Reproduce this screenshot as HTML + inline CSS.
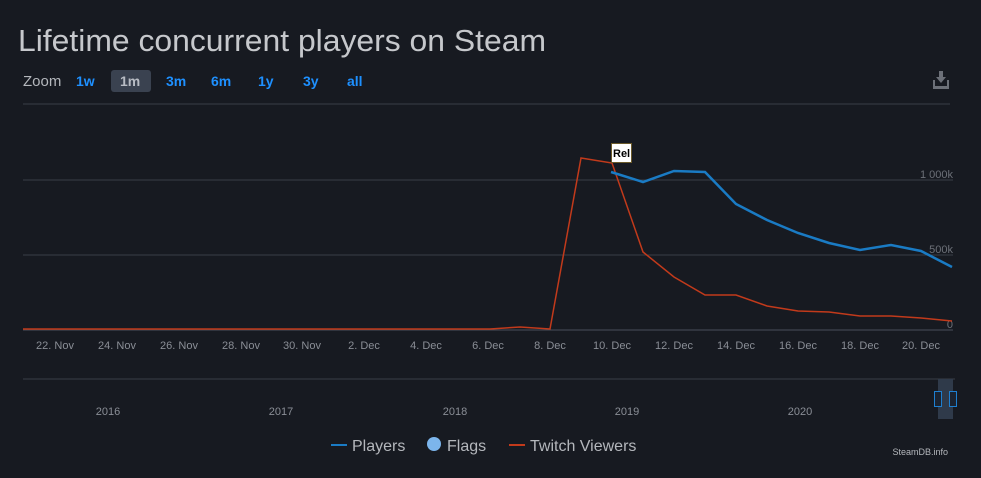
<!DOCTYPE html>
<html><head><meta charset="utf-8"><style>
body{margin:0;background:#171a21;width:981px;height:473px;overflow:hidden;font-family:"Liberation Sans",sans-serif}
</style></head><body>
<svg width="981" height="473" xmlns="http://www.w3.org/2000/svg" font-family="Liberation Sans, sans-serif">
<rect width="981" height="473" fill="#171a21"/>
<text x="18" y="51" font-size="31" fill="#c6c8cc" textLength="528" lengthAdjust="spacingAndGlyphs">Lifetime concurrent players on Steam</text>
<text x="23" y="86" font-size="15" fill="#b4b7bc">Zoom</text>
<rect x="111" y="70" width="40" height="22" rx="3" fill="#3a4250"/>
<g font-size="14" font-weight="bold" fill="#1e90ff">
<text x="76" y="86">1w</text><text x="120" y="86" fill="#b8bcc4">1m</text><text x="166" y="86">3m</text>
<text x="211" y="86">6m</text><text x="258" y="86">1y</text><text x="303" y="86">3y</text><text x="347" y="86">all</text></g>
<g fill="#6c7078"><rect x="933" y="86" width="16" height="3"/><rect x="933" y="80" width="2" height="7"/><rect x="947" y="80" width="2" height="7"/><polygon points="936,77 946,77 941,83"/><rect x="939" y="71" width="4" height="7"/></g>
<line x1="23" y1="104" x2="950" y2="104" stroke="#3a3e47"/>
<line x1="23" y1="180" x2="953" y2="180" stroke="#3a3e47"/>
<line x1="23" y1="255" x2="953" y2="255" stroke="#3a3e47"/>
<line x1="23" y1="330" x2="953" y2="330" stroke="#4a4f5a"/>
<g font-size="11" fill="#6c7078" text-anchor="end"><text x="953" y="178">1 000k</text><text x="953" y="253">500k</text><text x="953" y="328">0</text></g>
<g font-size="11" fill="#8a8e96" text-anchor="middle">
<text x="55" y="349">22. Nov</text><text x="117" y="349">24. Nov</text><text x="179" y="349">26. Nov</text><text x="241" y="349">28. Nov</text><text x="302" y="349">30. Nov</text><text x="364" y="349">2. Dec</text><text x="426" y="349">4. Dec</text><text x="488" y="349">6. Dec</text><text x="550" y="349">8. Dec</text><text x="612" y="349">10. Dec</text><text x="674" y="349">12. Dec</text><text x="736" y="349">14. Dec</text><text x="798" y="349">16. Dec</text><text x="860" y="349">18. Dec</text><text x="921" y="349">20. Dec</text></g>
<polyline fill="none" stroke="#c23a1b" stroke-width="1.5" points="23,329 490,329 520,327 550,329 581,158 612,163 643,252 674,277 705,295 736,295 767,306 798,311 829,312 860,316 891,316 921,318 952,321"/>
<polyline fill="none" stroke="#1a7bc4" stroke-width="2.5" points="611,172 643,182 674,171 705,172 736,204 767,220 798,233 829,243 860,250 891,245 921,251 952,267"/>
<rect x="611.5" y="143.5" width="20" height="19" fill="#fff" stroke="#6b5a2a"/>
<text x="613" y="157" font-size="11" font-weight="bold" fill="#000">Rel</text>
<line x1="23" y1="379" x2="955" y2="379" stroke="#3a3e47"/>
<g font-size="11" fill="#8a8e96" text-anchor="middle"><text x="108" y="415">2016</text><text x="281" y="415">2017</text><text x="455" y="415">2018</text><text x="627" y="415">2019</text><text x="800" y="415">2020</text></g>
<rect x="938" y="379" width="15" height="40" fill="#2f3a4a"/>
<rect x="934.5" y="391.5" width="7" height="15" fill="#1b2330" stroke="#1e7fd0"/>
<rect x="949.5" y="391.5" width="7" height="15" fill="#1b2330" stroke="#1e7fd0"/>
<g font-size="16" fill="#b4b7bc"><line x1="331" y1="445" x2="347" y2="445" stroke="#1a7bc4" stroke-width="2"/><text x="352" y="451">Players</text>
<circle cx="434" cy="444" r="7" fill="#7cb5ec"/><text x="447" y="451">Flags</text>
<line x1="509" y1="445" x2="525" y2="445" stroke="#c23a1b" stroke-width="2"/><text x="530" y="451">Twitch Viewers</text></g>
<text x="948" y="455" font-size="9" fill="#b4b7bc" text-anchor="end">SteamDB.info</text>
</svg>
</body></html>
